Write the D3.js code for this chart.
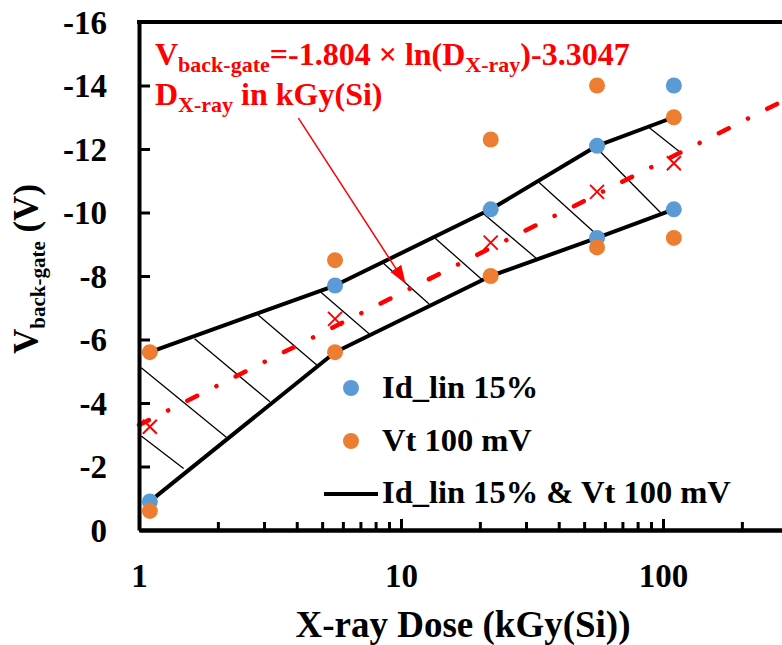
<!DOCTYPE html>
<html>
<head>
<meta charset="utf-8">
<script src="https://cdn.jsdelivr.net/npm/d3@7"></script>
<style>
  body { margin: 0; background: #fff; }
  svg text { font-family: "Liberation Serif", "Times New Roman", serif; font-weight: bold; }
</style>
</head>
<body>
<svg id="chart" width="782" height="645"></svg>
<script>
// Irradiation doses, kGy(Si)
const doses = [1.1, 5.6, 22, 56, 110];

// Back-gate voltage needed to recover Id_lin to within 15%
const idlinDose = [1.1, 5.6, 22, 56, 56, 110, 110];
const idlinV = [-0.9, -7.7, -10.1, -12.1, -9.2, -14.0, -10.1];

// Back-gate voltage needed to recover Vt to within 100 mV
const vtDose = [1.1, 1.1, 5.6, 5.6, 22, 22, 56, 56, 110, 110];
const vtV = [-5.6, -0.6, -8.5, -5.6, -12.3, -8.0, -14.0, -8.9, -13.0, -9.2];

// Window satisfying both criteria
const bandUpper = [-5.6, -7.7, -10.1, -12.1, -13.0];
const bandLower = [-0.9, -5.6, -8.0, -9.2, -10.1];
const bandMid = [-3.25, -6.65, -9.05, -10.65, -11.55];

// Hatch strokes across the window: [dose, V] at each end
const hatchFrom = [[1.02, -2.96], [1.02, -5.11], [1.63, -6.02], [2.85, -6.77], [4.91, -7.51],
                   [8.44, -8.45], [13.2, -9.26], [20.6, -9.97], [33.1, -11.0], [55.8, -12.03], [88.7, -12.67]];
const hatchTo = [[1.48, -1.94], [2.16, -2.91], [3.16, -4.04], [4.77, -5.20], [7.57, -6.17],
                 [12.8, -7.12], [20.3, -7.90], [32.8, -8.56], [55.5, -9.32], [98, -9.99], [117, -11.88]];

// Logarithmic fit
const fitSlope = -1.804;
const fitIntercept = -3.3047;
const fitRange = [1, 1000];

// Annotation arrow: [dose, V] of tail and tip
const arrowTail = [4.06, -12.97];
const arrowTip = [10.36, -7.79];

// Axis ticks
const xMajorTicks = [1, 10, 100];
const xTickLabels = ["1", "10", "100"];
const yTickValues = [0, -2, -4, -6, -8, -10, -12, -14, -16];
const yTickLabels = ["0", "-2", "-4", "-6", "-8", "-10", "-12", "-14", "-16"];

const BLUE = "#5B9BD5", ORANGE = "#ED7D31", RED = "#FF0000";

const svg = d3.select("#chart");
const x = d3.scaleLog().domain([1, 1000]).range([139, 925]);
const y = d3.scaleLinear().domain([0, -16]).range([530, 22]);

svg.append("rect").attr("width", 782).attr("height", 645).attr("fill", "#fff");

// hatching
svg.append("g").selectAll("line")
  .data(d3.zip(hatchFrom, hatchTo))
  .join("line")
  .attr("x1", d => x(d[0][0])).attr("y1", d => y(d[0][1]))
  .attr("x2", d => x(d[1][0])).attr("y2", d => y(d[1][1]))
  .attr("stroke", "#000").attr("stroke-width", 1.3);

// window boundaries
const bandLine = d3.line().x((d, i) => x(doses[i])).y(d => y(d));
[bandUpper, bandLower].forEach(b => {
  svg.append("path").attr("d", bandLine(b))
    .attr("fill", "none").attr("stroke", "#000").attr("stroke-width", 4)
    .attr("stroke-linejoin", "round");
});

// fitted trend, dash-dot
const fitPts = fitRange.map(d => [d, fitSlope * Math.log(d) + fitIntercept]);
svg.append("path")
  .attr("d", d3.line().x(d => x(d[0])).y(d => y(d[1]))(fitPts))
  .attr("fill", "none").attr("stroke", RED).attr("stroke-width", 4.5)
  .attr("stroke-linecap", "round")
  .attr("stroke-dasharray", "11 21.5 0.1 21.5");

// window midpoints
const xs = 7;
const mid = svg.append("g").selectAll("g").data(bandMid).join("g")
  .attr("transform", (d, i) => `translate(${x(doses[i])},${y(d)})`);
mid.append("path").attr("d", `M${-xs},${-xs}L${xs},${xs}M${-xs},${xs}L${xs},${-xs}`)
  .attr("stroke", RED).attr("stroke-width", 2);

// annotation arrow
svg.append("defs").append("marker")
  .attr("id", "head").attr("markerUnits", "userSpaceOnUse")
  .attr("markerWidth", 18).attr("markerHeight", 14)
  .attr("refX", 17).attr("refY", 6.5).attr("orient", "auto")
  .append("path").attr("d", "M0,0L18,6.5L0,13Z").attr("fill", RED);
svg.append("line")
  .attr("x1", x(arrowTail[0])).attr("y1", y(arrowTail[1]))
  .attr("x2", x(arrowTip[0])).attr("y2", y(arrowTip[1]))
  .attr("stroke", RED).attr("stroke-width", 1.5)
  .attr("marker-end", "url(#head)");

// data points
svg.append("g").selectAll("circle").data(idlinV).join("circle")
  .attr("cx", (d, i) => x(idlinDose[i])).attr("cy", d => y(d)).attr("r", 8)
  .attr("fill", BLUE);
svg.append("g").selectAll("circle").data(vtV).join("circle")
  .attr("cx", (d, i) => x(vtDose[i])).attr("cy", d => y(d)).attr("r", 8)
  .attr("fill", ORANGE);

// axes
const yAxis = d3.axisLeft(y).tickValues(yTickValues)
  .tickFormat((d, i) => yTickLabels[i]).tickSize(-11).tickSizeOuter(0).tickPadding(32);
const gy = svg.append("g").attr("transform", `translate(${x(1)},0)`).call(yAxis);

const gxMinor = svg.append("g").attr("transform", `translate(0,${y(0)})`)
  .call(d3.axisBottom(x).tickSize(-8).tickSizeOuter(0).tickFormat(""));
const gx = svg.append("g").attr("transform", `translate(0,${y(0)})`)
  .call(d3.axisBottom(x).tickValues(xMajorTicks)
    .tickFormat((d, i) => xTickLabels[i]).tickSize(-11).tickSizeOuter(0));
gx.selectAll("text").attr("y", 57).attr("dy", null);

[gy, gx, gxMinor].forEach(g => {
  g.select(".domain").attr("stroke", "#000").attr("stroke-width", 4);
  g.selectAll(".tick line").attr("stroke", "#000").attr("stroke-width", 3);
  g.selectAll("text").attr("fill", "#000").style("font-size", "33px")
    .style("font-family", "'Liberation Serif','Times New Roman',serif").style("font-weight", "bold");
});
gy.selectAll("text").attr("dy", "0.34em");

// top frame
svg.append("line").attr("x1", x(1) - 2).attr("x2", x(1000)).attr("y1", y(-16)).attr("y2", y(-16))
  .attr("stroke", "#000").attr("stroke-width", 4);

// axis titles
svg.append("text").attr("x", 463).attr("y", 637).attr("text-anchor", "middle")
  .style("font-size", "37px").text("X-ray Dose (kGy(Si))");

const yt = svg.append("text").attr("transform", "translate(38,269) rotate(-90)")
  .attr("text-anchor", "middle").style("font-size", "35px");
yt.append("tspan").text("V");
yt.append("tspan").attr("dy", 7).style("font-size", "21px").text("back-gate");
yt.append("tspan").attr("dy", -7).text(" (V)");

// fit equation
const eq1 = svg.append("text").attr("x", 155).attr("y", 65).attr("fill", RED).style("font-size", "32px");
eq1.append("tspan").text("V");
eq1.append("tspan").attr("dy", 7).style("font-size", "22px").text("back-gate");
eq1.append("tspan").attr("dy", -7).text(`=${fitSlope} × ln(D`);
eq1.append("tspan").attr("dy", 7).style("font-size", "22px").text("X-ray");
eq1.append("tspan").attr("dy", -7).text(`)${fitIntercept}`);

const eq2 = svg.append("text").attr("x", 155).attr("y", 105).attr("fill", RED).style("font-size", "32px");
eq2.append("tspan").text("D");
eq2.append("tspan").attr("dy", 7).style("font-size", "22px").text("X-ray");
eq2.append("tspan").attr("dy", -7).text(" in kGy(Si)");

// legend
const legend = svg.append("g").style("font-size", "32.5px");
legend.append("circle").attr("cx", 351).attr("cy", 388).attr("r", 8).attr("fill", BLUE);
legend.append("text").attr("x", 382).attr("y", 398).text("Id_lin 15%");
legend.append("circle").attr("cx", 351).attr("cy", 441).attr("r", 8).attr("fill", ORANGE);
legend.append("text").attr("x", 382).attr("y", 451).text("Vt 100 mV");
legend.append("line").attr("x1", 324).attr("x2", 378).attr("y1", 494).attr("y2", 494)
  .attr("stroke", "#000").attr("stroke-width", 4);
legend.append("text").attr("x", 382).attr("y", 503).text("Id_lin 15% & Vt 100 mV");
</script>
</body>
</html>
